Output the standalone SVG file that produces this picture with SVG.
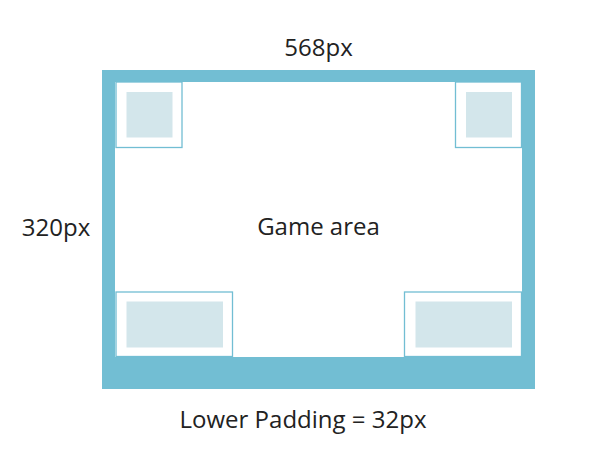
<svg xmlns="http://www.w3.org/2000/svg" width="608" height="474" viewBox="0 0 608 474">
<style>
.lbl{font-family:"Open Sans","Noto Sans","Liberation Sans",sans-serif;font-size:24px;fill:#222222;text-anchor:middle}
.frame{fill:#72BED3}
.area{fill:#ffffff}
.box{fill:#ffffff;stroke:#72BED3;stroke-width:1.3}
.inner{fill:#D3E6EB}
</style>
<rect width="608" height="474" fill="#ffffff"/>
<g id="screen">
<rect class="frame" x="102" y="70" width="433" height="319"/>
<rect class="area" x="115" y="82" width="407" height="275"/>
</g>
<g id="top-left">
<rect class="box" x="116" y="82" width="66" height="65.5"/>
<rect class="inner" x="126.5" y="92" width="46" height="45.5"/>
</g>
<g id="top-right">
<rect class="box" x="455.5" y="82" width="66" height="65.5"/>
<rect class="inner" x="466" y="92" width="46" height="45.5"/>
</g>
<g id="bottom-left">
<rect class="box" x="116" y="292" width="116.5" height="64.5"/>
<rect class="inner" x="126.5" y="301.5" width="96.5" height="46"/>
</g>
<g id="bottom-right">
<rect class="box" x="404.5" y="292" width="117" height="64.5"/>
<rect class="inner" x="415.5" y="301.5" width="96.5" height="46"/>
</g>
<g id="labels">
<text class="lbl" x="318.5" y="56">568px</text>
<text class="lbl" x="56" y="236">320px</text>
<text class="lbl" x="318.5" y="235">Game area</text>
<text class="lbl" x="303" y="428">Lower Padding = 32px</text>
</g>
</svg>
